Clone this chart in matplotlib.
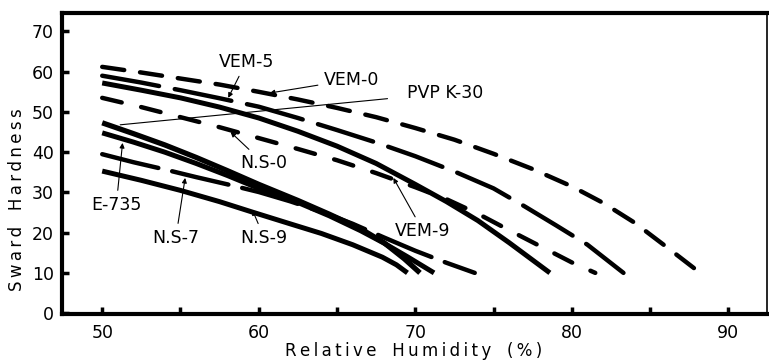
import matplotlib.pyplot as plt

# sward hardness vs relative humidity for each polymer film
rh_vem0 = [50, 52.5, 55, 57.5, 60, 62.5, 65, 67.5, 70, 72.5, 75, 77.5, 80, 82, 84, 86, 88.2]
hard_vem0 = [61.2, 59.8, 58.3, 56.8, 55, 53.1, 51, 48.7, 46, 43.1, 39.6, 35.8, 31.5, 27.4, 22.5, 16.6, 10]

rh_vem5 = [50, 52.5, 55, 57.5, 60, 62.5, 65, 67.5, 70, 72.5, 75, 77, 79, 81, 83.3]
hard_vem5 = [59, 57.3, 55.4, 53.4, 51.3, 48.5, 45.5, 42.4, 39, 35.2, 31, 26.5, 21.8, 17, 10]

rh_vem9 = [50, 52.5, 55, 57.5, 60, 62.5, 65, 67.5, 70, 72, 74, 76, 78.6]
hard_vem9 = [57.2, 55.4, 53.5, 51.2, 48.5, 45.2, 41.5, 37.2, 32, 27.7, 23, 17.5, 10]

rh_ns0 = [50, 52.5, 55, 57.5, 60, 62.5, 65, 67.5, 70, 72, 74, 76, 78, 80, 81.5]
hard_ns0 = [53.5, 51.2, 48.7, 46.2, 43.5, 40.8, 38, 34.8, 31.3, 28.3, 24.7, 20.6, 16.6, 12.6, 10]

rh_pvp = [50, 52, 54, 56, 58, 60, 62.5, 64.5, 66.5, 68, 69.3, 70.3]
hard_pvp = [47.3, 44.6, 41.8, 38.7, 35.4, 32, 28, 24.6, 21, 17.5, 13.5, 10]

rh_e735 = [50, 52, 54, 56, 58, 60, 62.5, 64.5, 66.5, 68, 69.5, 71.2]
hard_e735 = [44.8, 42.5, 40, 37.2, 34.2, 31, 27.5, 24.2, 20.5, 17.4, 14, 10]

rh_ns7 = [50, 52, 54, 56, 58, 60, 62, 64, 66, 68, 70, 72, 73.8]
hard_ns7 = [39.5, 37.5, 35.7, 33.8, 32, 30.1, 27.8, 25.2, 22.2, 18.8, 15.5, 12.5, 10]

rh_ns9 = [50, 52.5, 55, 57.5, 59.6, 62, 64, 66, 67.9, 68.8, 69.5]
hard_ns9 = [35.3, 33, 30.5, 27.7, 25.1, 22.2, 19.8, 17, 13.9, 12, 10]

fig = plt.figure(figsize=(7.69, 3.6), dpi=100)
ax = fig.add_axes([0.081, 0.128, 0.917, 0.836])

lw = 3.2
ax.plot(rh_vem0, hard_vem0, color='k', lw=lw, ls=(0, (5.0, 3.6)), dash_capstyle='round')
ax.plot(rh_vem5, hard_vem5, color='k', lw=lw, ls=(0, (13, 3.6)), dash_capstyle='round')
ax.plot(rh_vem9, hard_vem9, color='k', lw=lw + 0.4, solid_capstyle='butt')
ax.plot(rh_ns0, hard_ns0, color='k', lw=lw, ls=(0, (4.5, 4.5)), dash_capstyle='round')
ax.plot(rh_pvp, hard_pvp, color='k', lw=lw + 0.6, solid_capstyle='butt')
ax.plot(rh_e735, hard_e735, color='k', lw=lw + 0.4, solid_capstyle='butt')
ax.plot(rh_ns7, hard_ns7, color='k', lw=lw, ls=(0, (13, 3.2)), dash_capstyle='round')
ax.plot(rh_ns9, hard_ns9, color='k', lw=lw + 0.4, solid_capstyle='butt')

arrow = dict(arrowstyle='-|>', color='k', lw=0.8, mutation_scale=7, shrinkA=2, shrinkB=0)
label_font = dict(fontsize=12.5, ha='center', va='center')

ax.annotate('VEM-5', xy=(58.05, 53.5), xytext=(59.2, 62.4), arrowprops=arrow, **label_font)
ax.annotate('VEM-0', xy=(60.7, 54.7), xytext=(65.9, 58.0), arrowprops=arrow, **label_font)
ax.annotate('PVP K-30', xy=(51.15, 46.8), xytext=(71.9, 54.7),
            arrowprops=dict(arrowstyle='-', color='k', lw=0.8, shrinkA=12, shrinkB=0),
            **label_font)
ax.annotate('N.S-0', xy=(58.2, 45.0), xytext=(60.3, 37.3), arrowprops=arrow, **label_font)
ax.annotate('E-735', xy=(51.3, 42.3), xytext=(50.9, 26.9), arrowprops=arrow, **label_font)
ax.annotate('N.S-7', xy=(55.3, 33.6), xytext=(54.7, 18.7), arrowprops=arrow, **label_font)
ax.annotate('N.S-9', xy=(59.6, 25.6), xytext=(60.35, 18.7), arrowprops=arrow, **label_font)
ax.annotate('VEM-9', xy=(68.6, 33.6), xytext=(70.5, 20.4), arrowprops=arrow, **label_font)

ax.set_xlim(47.45, 92.5)
ax.set_ylim(-0.2, 74.6)

ax.set_xticks([50, 55, 60, 65, 70, 75, 80, 85, 90])
ax.set_xticklabels(['50', '', '60', '', '70', '', '80', '', '90'])
ax.set_yticks([0, 10, 20, 30, 40, 50, 60, 70])
ax.tick_params(axis='both', direction='in', length=5, width=2.5, labelsize=12.5, colors='k')
ax.tick_params(axis='x', pad=7)
ax.tick_params(axis='y', pad=6)

for side in ['left', 'bottom', 'top']:
    ax.spines[side].set_linewidth(3)
ax.spines['right'].set_linewidth(1.2)

# letter-spaced axis titles
ax.set_xlabel('R\u2009e\u2009l\u2009a\u2009t\u2009i\u2009v\u2009e   H\u2009u\u2009m\u2009i\u2009d\u2009i\u2009t\u2009y   (\u2009%\u2009)',
              fontsize=12)
ax.xaxis.set_label_coords(0.498, -0.092)
ax.set_ylabel('S\u2009w\u2009a\u2009r\u2009d   H\u2009a\u2009r\u2009d\u2009n\u2009e\u2009s\u2009s', fontsize=12)
ax.yaxis.set_label_coords(-0.052, 0.38)

fig.savefig('out.png', dpi=100)
